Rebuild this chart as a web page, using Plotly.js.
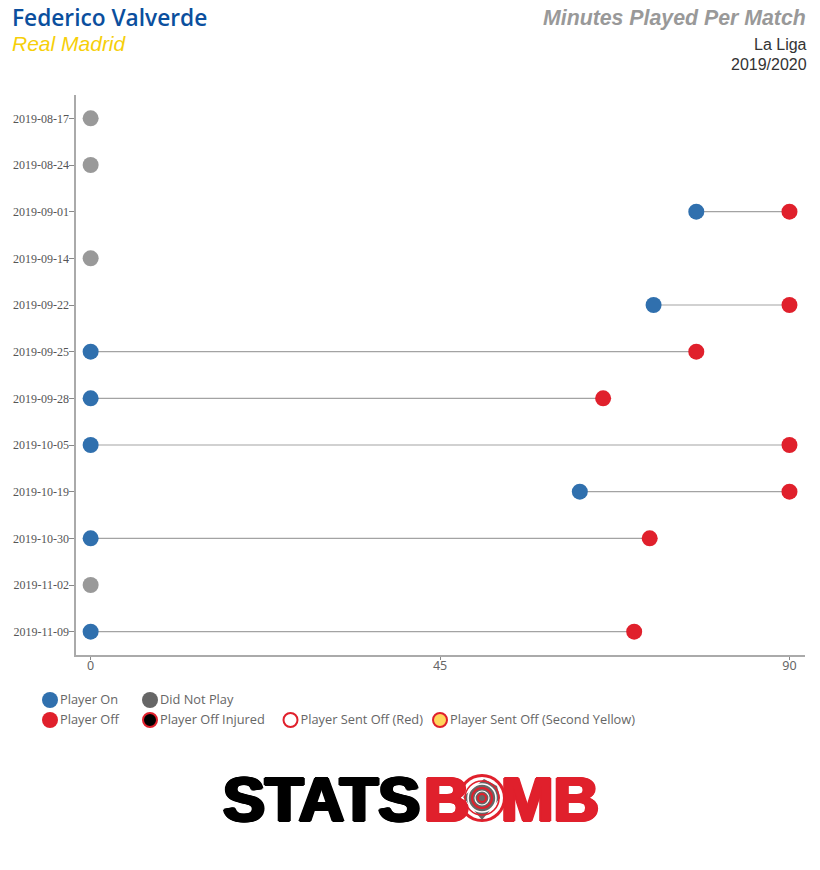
<!DOCTYPE html>
<html><head><meta charset="utf-8">
<script src="https://cdn.plot.ly/plotly-3.0.1.min.js"></script>
<style>html,body{margin:0;padding:0;background:#fff}#c{width:820px;height:870px}</style>
</head><body><div id="c"></div>
<script>
const dates = ['2019-08-17','2019-08-24','2019-09-01','2019-09-14','2019-09-22','2019-09-25','2019-09-28','2019-10-05','2019-10-19','2019-10-30','2019-11-02','2019-11-09'];
const minuteOn  = [null,null,78,null,72.5,0,0,0,63,0,null,0];
const minuteOff = [null,null,90,null,90,78,66,90,90,72,null,70];
const didNotPlay = [0,0,null,0,null,null,null,null,null,null,0,null];
const xTicks = [0,45,90];
const legendLabels = ['Player On','Did Not Play','Player Off','Player Off Injured','Player Sent Off (Red)','Player Sent Off (Second Yellow)'];

const BLUE='#3070AE', RED='#E0202C', GREY='#999999', DARK='#666666', GOLD='#FFD55C';
const lineX=[], lineY=[];
dates.forEach((d,i)=>{ if(minuteOn[i]!==null){ lineX.push(minuteOn[i],minuteOff[i],null); lineY.push(d,d,null);} });

const traces=[
 {x:lineX,y:lineY,mode:'lines',line:{color:'#a3a3a3',width:1.2},hoverinfo:'skip'},
 {x:didNotPlay,y:dates,mode:'markers',marker:{size:16,color:GREY}},
 {x:minuteOn,y:dates,mode:'markers',marker:{size:16,color:BLUE}},
 {x:minuteOff,y:dates,mode:'markers',marker:{size:16,color:RED}}
];
// legend keys and labels live on a page-sized axis (pixel units)
const legendPx=[[50,700],[150,700],[50,720],[150,720],[290.5,720],[440,720]];
const legendFill=[BLUE,DARK,RED,'#000000','#ffffff',GOLD];
const legendLine=[BLUE,DARK,RED,RED,RED,RED];
legendLabels.forEach((t,i)=>{
 traces.push({x:[legendPx[i][0]],y:[legendPx[i][1]],xaxis:'x2',yaxis:'y2',mode:'markers',
  marker:{size:i<3?16:14,color:legendFill[i],line:{color:legendLine[i],width:i>2?2:0}},hoverinfo:'skip',cliponaxis:false});
 traces.push({x:[legendPx[i][0]+10],y:[legendPx[i][1]+0.5],xaxis:'x2',yaxis:'y2',mode:'text',
  text:[t],textposition:'middle right',textfont:{family:'Open Sans, Noto Sans, sans-serif',size:12.8,color:'#666666'},hoverinfo:'skip',cliponaxis:false});
});

const ann=(x,y,text,anchor,font)=>({xref:'x2',yref:'y2',x,y,text,showarrow:false,xanchor:anchor,yanchor:'middle',font,borderpad:0});
const LS='Liberation Sans, Arial, sans-serif';
const logo=(x,t,c)=>ann(x,799,t,'left',{family:LS,size:63,weight:700,color:c,shadow:`2px 0 0 ${c}, -2px 0 0 ${c}, 0 1px 0 ${c}, 0 -1px 0 ${c}, 1px 1px 0 ${c}, -1px -1px 0 ${c}, 1px -1px 0 ${c}, -1px 1px 0 ${c}`});
const annotations=[
 ann(11,17,'Federico Valverde','left',{family:'Open Sans, sans-serif',size:22.7,weight:600,color:'#0B4F9E'}),
 ann(11,43,'<i>Real Madrid</i>','left',{family:LS,size:21,color:'#F6CF0A'}),
 ann(807,18,'<b><i>Minutes Played Per Match</i></b>','right',{family:LS,size:21.3,color:'#999999'}),
 ann(808,44,'La Liga','right',{family:LS,size:16,color:'#333333'}),
 ann(808,64,'2019/2020','right',{family:LS,size:16,color:'#333333'}),
 logo(222,'STATS','#000000'),
 logo(423,'B',RED),
 logo(500,'MB',RED)
];
const ring=(r,c,w)=>({type:'circle',xref:'x2',yref:'y2',x0:482-r,x1:482+r,y0:798-r,y1:798+r,fillcolor:'rgba(0,0,0,0)',line:{color:c,width:w},layer:'above'});
const circ=(r,fill)=>({type:'circle',xref:'x2',yref:'y2',x0:482-r,x1:482+r,y0:798-r,y1:798+r,fillcolor:fill,line:{width:0},layer:'above'});
const shapes=[
 circ(24,RED),circ(21,'#ffffff'),
 {type:'path',xref:'x2',yref:'y2',path:'M 463 797 L 484 779 L 497 786 L 500 798 L 482 820 Z',fillcolor:'#666666',line:{width:0},layer:'above'},
 ring(17,RED,1.6),ring(14,'#ffffff',1.6),ring(10,RED,2),ring(7,'#ffffff',1.2),ring(4,RED,2)
];
const layout={
 width:820,height:870,margin:{l:0,r:0,t:0,b:0},paper_bgcolor:'#fff',plot_bgcolor:'rgba(0,0,0,0)',showlegend:false,
 xaxis:{domain:[75.5/820,805/820],range:[-1.95,92],tickvals:xTicks,ticktext:xTicks.map(String),showgrid:false,zeroline:false,
   showline:true,linecolor:'#aaaaaa',linewidth:2,ticks:'outside',ticklen:3,tickcolor:'#888888',tickwidth:1,ticklabelstandoff:-5,
   tickfont:{family:'Noto Sans, sans-serif',size:12.5,color:'#666666'},anchor:'y'},
 yaxis:{domain:[1-655/870,1-95/870],type:'category',categoryorder:'array',categoryarray:dates,range:[11.5,-0.5],
   tickmode:'array',tickvals:dates,ticktext:dates,showgrid:false,zeroline:false,
   showline:true,linecolor:'#aaaaaa',linewidth:2,ticks:'outside',ticklen:5,tickcolor:'#888888',tickwidth:1,ticklabelstandoff:-3,
   tickfont:{family:'Liberation Serif, serif',size:12,color:'#555555'},anchor:'x'},
 xaxis2:{domain:[0,1],range:[0,820],visible:false,anchor:'y2'},
 yaxis2:{domain:[0,1],range:[870,0],visible:false,anchor:'x2'},
 annotations,shapes
};
Plotly.newPlot('c',traces,layout,{displayModeBar:false,staticPlot:true});
</script></body></html>
